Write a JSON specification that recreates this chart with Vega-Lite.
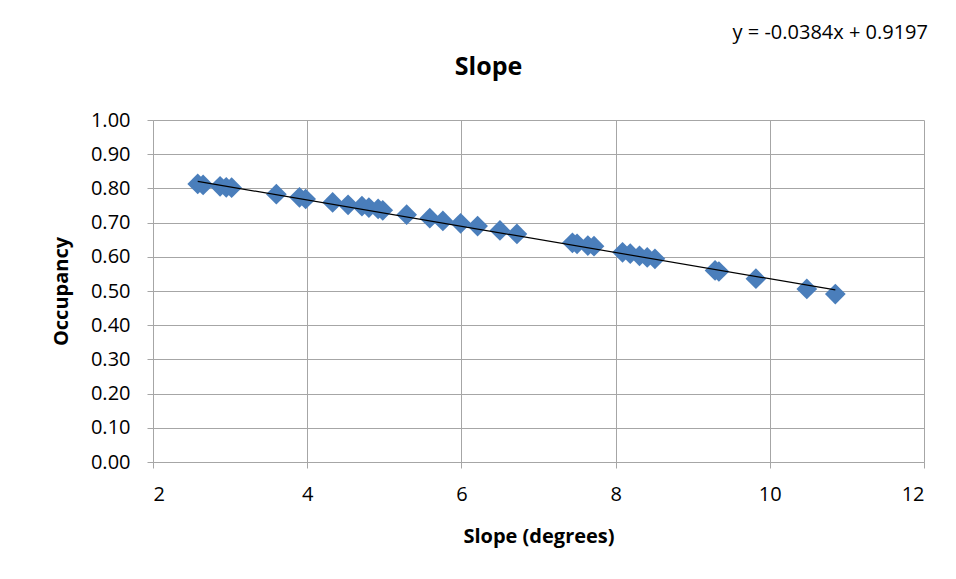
{
  "$schema": "https://vega.github.io/schema/vega-lite/v6.json",
  "width": 771,
  "height": 342,
  "autosize": {"type": "none"},
  "padding": {"left": 153, "top": 120, "right": 32, "bottom": 117},
  "background": "white",
  "config": {
    "font": "Open Sans",
    "view": {"stroke": null},
    "axis": {
      "gridColor": "#a6a6a6",
      "gridWidth": 1,
      "domainColor": "#a6a6a6",
      "tickColor": "#a6a6a6",
      "tickSize": 6,
      "labelFont": "Open Sans",
      "labelFontSize": 20,
      "labelColor": "#000000",
      "labelOverlap": false,
      "titleFont": "Open Sans",
      "titleFontSize": 20,
      "titleFontWeight": "bold",
      "titleColor": "#000000"
    }
  },
  "title": {
    "text": "Slope",
    "fontSize": 25,
    "fontWeight": "bold",
    "font": "Open Sans",
    "color": "#000000",
    "anchor": "middle",
    "frame": "group",
    "dx": -50,
    "offset": -57
  },
  "datasets": {
    "points": [
      {"slope": 2.58, "occupancy": 0.813},
      {"slope": 2.65, "occupancy": 0.810},
      {"slope": 2.87, "occupancy": 0.806},
      {"slope": 2.95, "occupancy": 0.803},
      {"slope": 3.02, "occupancy": 0.802},
      {"slope": 3.60, "occupancy": 0.783},
      {"slope": 3.90, "occupancy": 0.774},
      {"slope": 3.98, "occupancy": 0.769},
      {"slope": 4.33, "occupancy": 0.759},
      {"slope": 4.53, "occupancy": 0.752},
      {"slope": 4.71, "occupancy": 0.748},
      {"slope": 4.80, "occupancy": 0.744},
      {"slope": 4.92, "occupancy": 0.740},
      {"slope": 4.98, "occupancy": 0.736},
      {"slope": 5.29, "occupancy": 0.723},
      {"slope": 5.59, "occupancy": 0.713},
      {"slope": 5.76, "occupancy": 0.705},
      {"slope": 5.99, "occupancy": 0.698},
      {"slope": 6.21, "occupancy": 0.690},
      {"slope": 6.50, "occupancy": 0.677},
      {"slope": 6.72, "occupancy": 0.667},
      {"slope": 7.44, "occupancy": 0.641},
      {"slope": 7.50, "occupancy": 0.638},
      {"slope": 7.64, "occupancy": 0.633},
      {"slope": 7.72, "occupancy": 0.631},
      {"slope": 8.09, "occupancy": 0.613},
      {"slope": 8.19, "occupancy": 0.609},
      {"slope": 8.31, "occupancy": 0.603},
      {"slope": 8.41, "occupancy": 0.598},
      {"slope": 8.51, "occupancy": 0.594},
      {"slope": 9.29, "occupancy": 0.560},
      {"slope": 9.34, "occupancy": 0.557},
      {"slope": 9.82, "occupancy": 0.536},
      {"slope": 10.48, "occupancy": 0.506},
      {"slope": 10.85, "occupancy": 0.491}
    ],
    "trend": [
      {"slope": 2.58, "occupancy": 0.8206},
      {"slope": 10.85, "occupancy": 0.5031}
    ],
    "equation": [
      {"slope": 12, "occupancy": 1.0, "label": "y = -0.0384x + 0.9197"}
    ]
  },
  "encoding": {
    "x": {
      "field": "slope", "type": "quantitative",
      "scale": {"domain": [2, 12], "nice": false, "zero": false},
      "axis": {"values": [2, 4, 6, 8, 10, 12], "format": "d", "title": "Slope (degrees)", "labelPadding": 16, "titlePadding": 22, "grid": true}
    },
    "y": {
      "field": "occupancy", "type": "quantitative",
      "scale": {"domain": [0, 1], "nice": false},
      "axis": {"values": [0, 0.1, 0.2, 0.3, 0.4, 0.5, 0.6, 0.7, 0.8, 0.9, 1.0], "format": ".2f", "title": "Occupancy", "labelPadding": 17, "titlePadding": 19, "grid": true}
    }
  },
  "layer": [
    {
      "data": {"name": "points"},
      "mark": {"type": "point", "shape": "diamond", "filled": true, "size": 430, "color": "#4a7ebb", "opacity": 1}
    },
    {
      "data": {"name": "trend"},
      "mark": {"type": "line", "color": "#000000", "strokeWidth": 1.2}
    },
    {
      "data": {"name": "equation"},
      "mark": {"type": "text", "align": "right", "baseline": "middle", "dx": 4, "dy": -87, "fontSize": 20, "font": "Open Sans", "color": "#000000"},
      "encoding": {
        "text": {"field": "label"}
      }
    }
  ]
}
